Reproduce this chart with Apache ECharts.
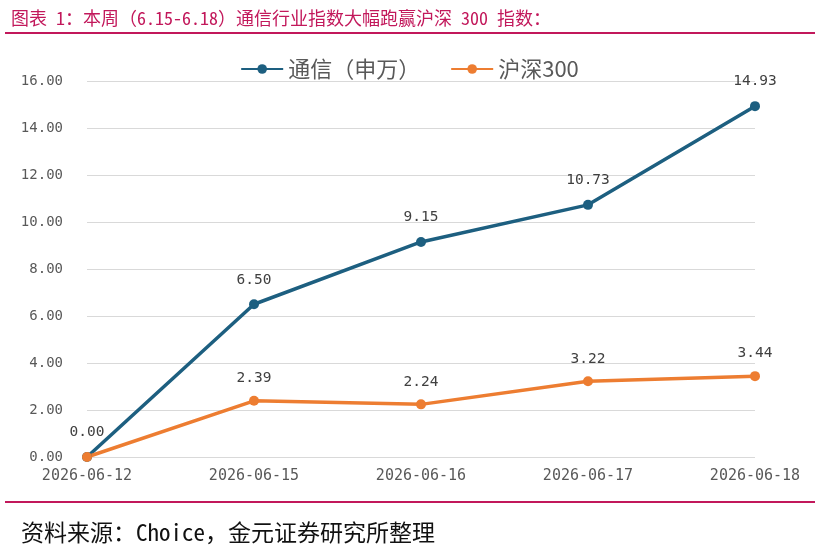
<!DOCTYPE html>
<html>
<head>
<meta charset="utf-8">
<script src="https://cdn.jsdelivr.net/npm/echarts@6/dist/echarts.min.js"></script>
<style>
  html, body { margin: 0; padding: 0; background: #fff; }
  #chart { width: 819px; height: 552px; }
</style>
</head>
<body>
<div id="chart"></div>
<script>
const dates = ['2026-06-12', '2026-06-15', '2026-06-16', '2026-06-17', '2026-06-18']
const telecom = [0.00, 6.50, 9.15, 10.73, 14.93]
const csi300 = [0.00, 2.39, 2.24, 3.22, 3.44]
const seriesNames = ['通信（申万）', '沪深300']

const cjk = '"Noto Sans CJK SC", "Noto Sans", sans-serif'
// 标题/来源：半角等宽 + 全角标点
const cjkMono = '"Noto Sans Mono CJK SC", "Noto Sans CJK SC", monospace'
// 坐标轴和数据标签的数字
const mono = '"DejaVu Sans Mono", "Liberation Mono", monospace'
const chart = echarts.init(document.getElementById('chart'))

chart.setOption({
  backgroundColor: '#fff',
  animation: false,
  title: [
    {
      text: '图表 1：本周（6.15-6.18）通信行业指数大幅跑赢沪深 300 指数：',
      left: 6,
      top: 4,
      textStyle: { color: '#c2185b', fontSize: 18, fontWeight: 'normal', fontFamily: cjkMono },
    },
    {
      text: '资料来源：Choice，金元证券研究所整理',
      left: 16,
      top: 516,
      textStyle: { color: '#111', fontSize: 23, fontWeight: 'normal', fontFamily: cjkMono },
    },
  ],
  graphic: [
    { type: 'rect', shape: { x: 5, y: 32, width: 810, height: 2 }, style: { fill: '#c2185b' } },
    { type: 'rect', shape: { x: 5, y: 501, width: 810, height: 2 }, style: { fill: '#c2185b' } },
  ],
  legend: {
    data: seriesNames,
    top: 53,
    left: 'center',
    itemWidth: 42,
    itemHeight: 12,
    itemGap: 30,
    textStyle: { color: '#595959', fontSize: 22, fontFamily: cjk },
  },
  grid: { left: 87, right: 64, top: 81, bottom: 95 },
  xAxis: {
    type: 'category',
    data: dates,
    boundaryGap: false,
    axisLine: { show: false },
    axisTick: { show: false },
    axisLabel: { color: '#595959', fontSize: 15, margin: 12, fontFamily: mono },
  },
  yAxis: {
    type: 'value',
    min: 0,
    max: 16,
    interval: 2,
    axisLine: { show: false },
    axisTick: { show: false },
    splitLine: { lineStyle: { color: '#d9d9d9', width: 1 } },
    axisLabel: {
      color: '#595959',
      fontSize: 14,
      margin: 24,
      fontFamily: mono,
      formatter: (v) => v.toFixed(2),
    },
  },
  series: [
    {
      name: seriesNames[0],
      type: 'line',
      data: telecom,
      symbol: 'circle',
      symbolSize: 10,
      lineStyle: { width: 3.5, color: '#1d5f80' },
      itemStyle: { color: '#1d5f80' },
      label: {
        show: true,
        position: 'top',
        distance: 12,
        color: '#404040',
        fontSize: 14.5,
        fontFamily: mono,
        formatter: (p) => p.value.toFixed(2),
      },
    },
    {
      name: seriesNames[1],
      type: 'line',
      data: csi300,
      symbol: 'circle',
      symbolSize: 10,
      lineStyle: { width: 3.5, color: '#ed7d31' },
      itemStyle: { color: '#ed7d31' },
      label: {
        show: true,
        position: 'top',
        distance: 10,
        color: '#404040',
        fontSize: 14.5,
        fontFamily: mono,
        formatter: (p) => (p.dataIndex === 0 ? '' : p.value.toFixed(2)),
      },
    },
  ],
})
</script>
</body>
</html>
